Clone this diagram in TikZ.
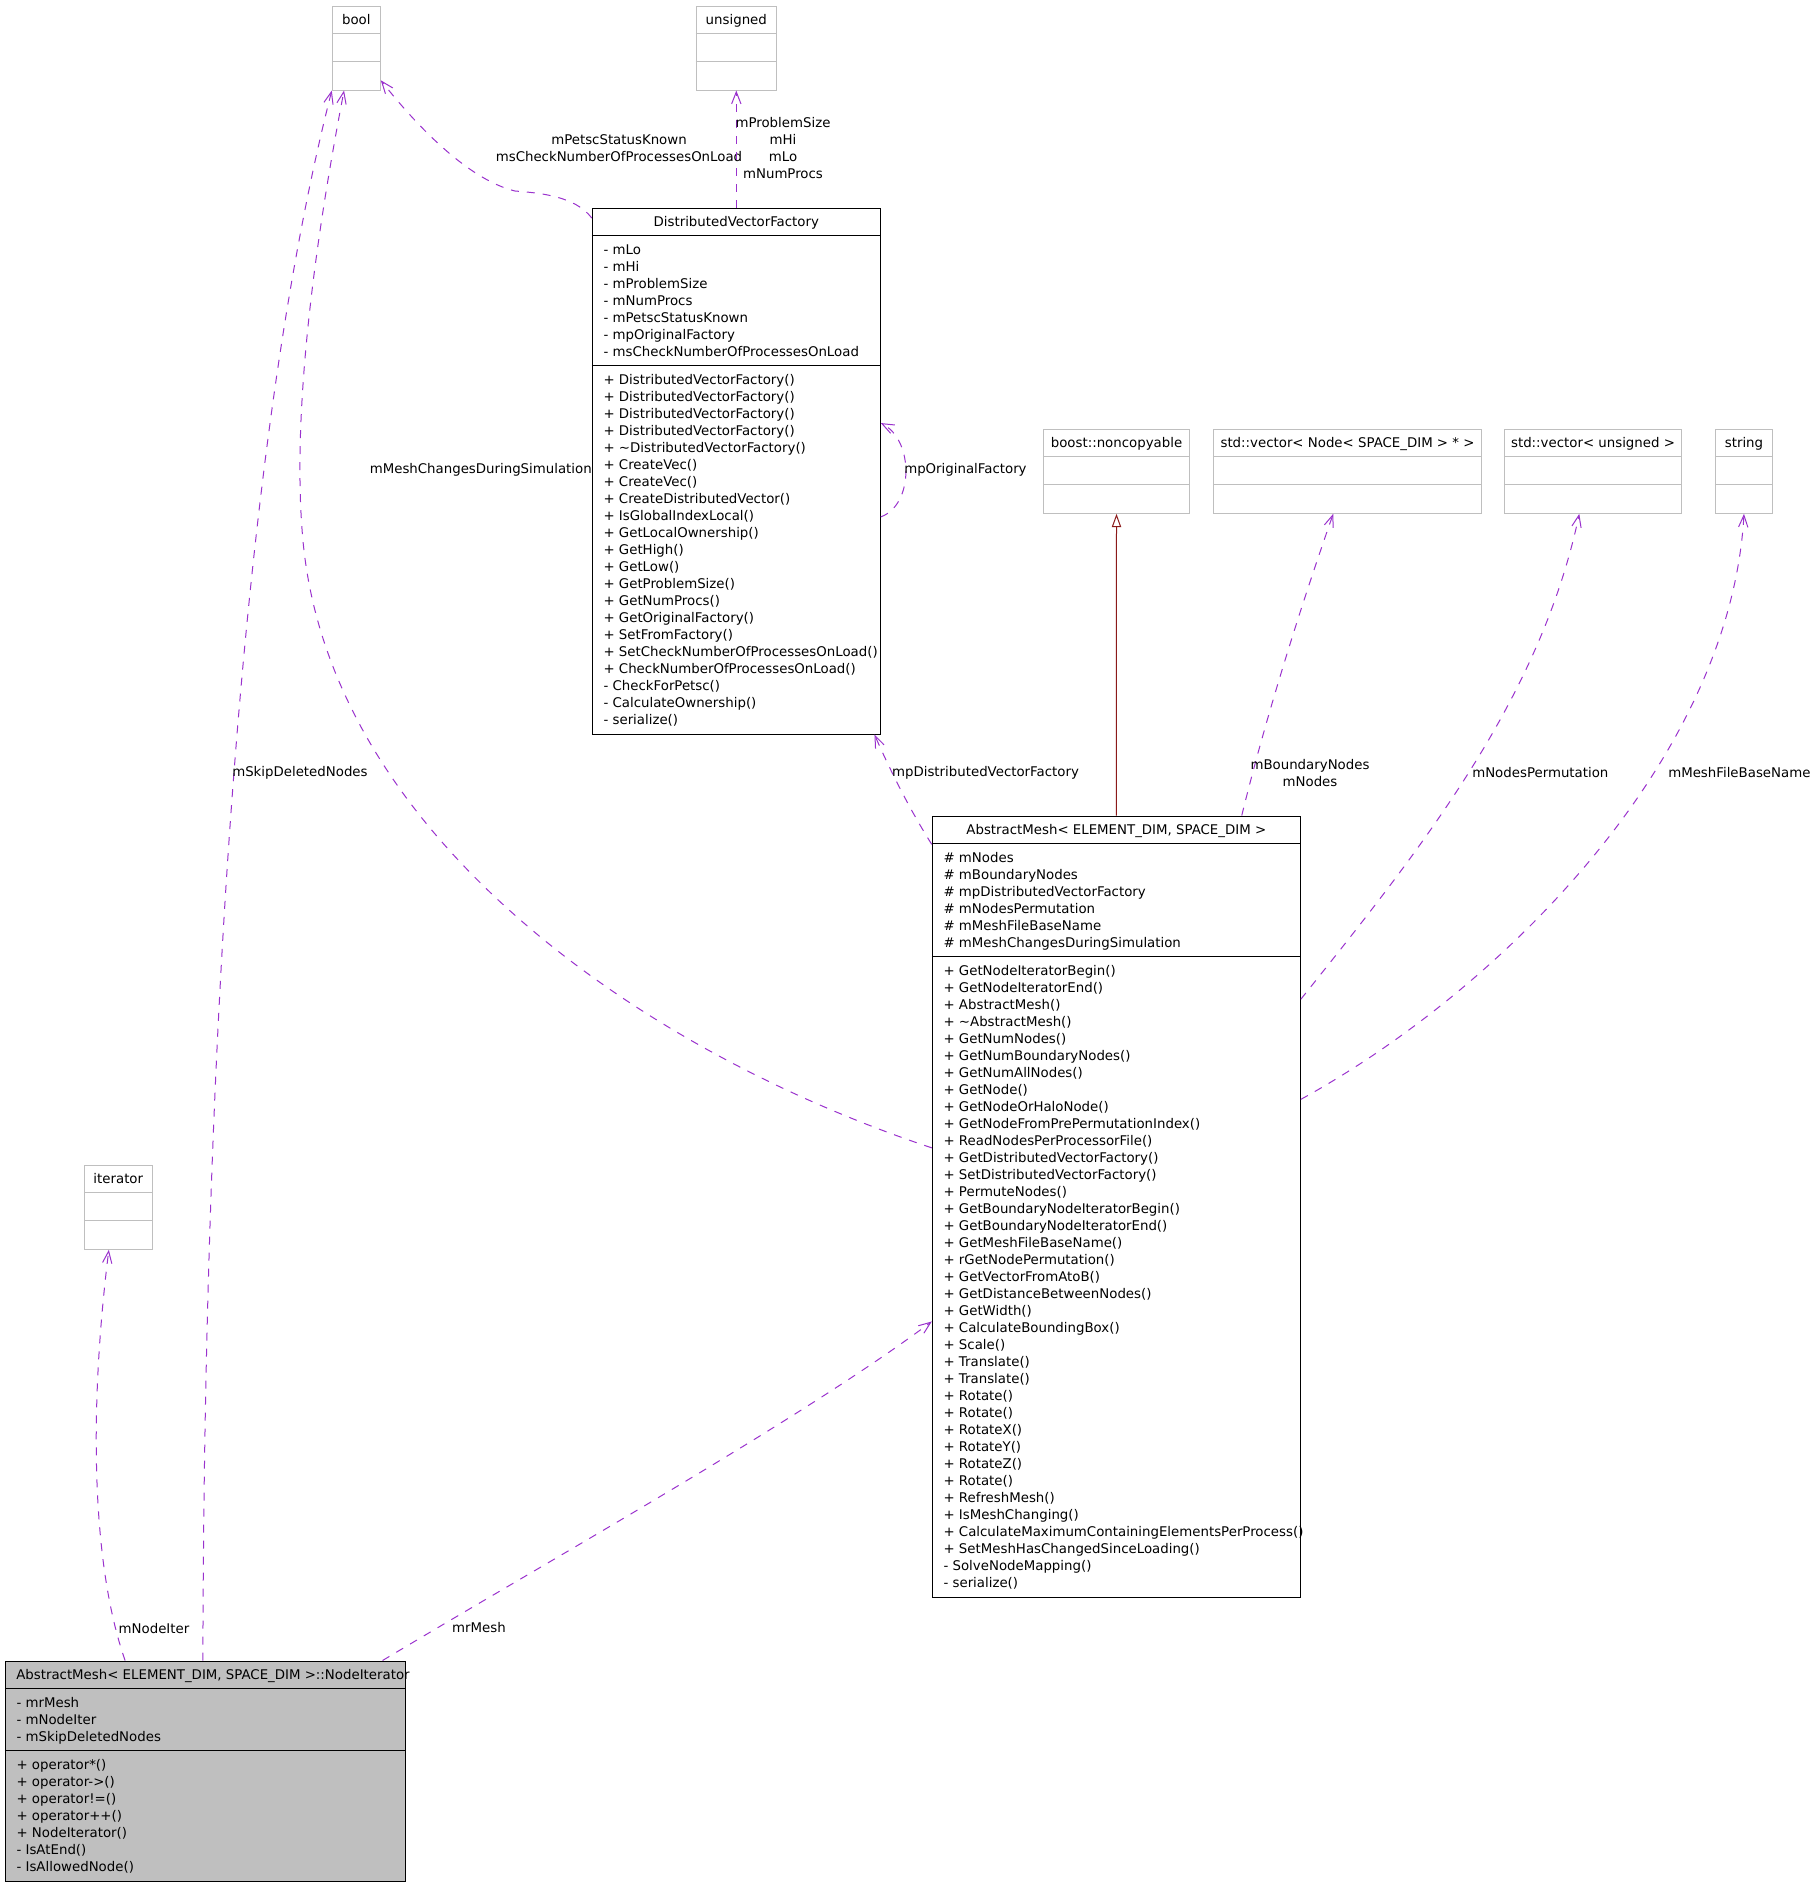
\documentclass[tikz,border=0pt]{standalone}
\usepackage{fontspec}
\setmainfont{DejaVu Sans}
\usetikzlibrary{arrows.meta,calc,fit}
\definecolor{edgepurple}{HTML}{9A32CD}
\definecolor{extgray}{HTML}{BFBFBF}
\definecolor{inhred}{HTML}{8B1A1A}
\tikzset{
  classbox/.style={draw=black, line width=0.75pt, inner sep=0pt},
  extbox/.style={draw=extgray, line width=0.75pt, inner sep=0pt},
  clssep/.style={draw=black, line width=0.75pt},
  extsep/.style={draw=extgray, line width=0.75pt},
  clsname/.style={anchor=base, inner sep=0pt},
  members/.style={anchor=north west, inner sep=0pt, align=left, font=\fontsize{10}{12.75}\selectfont},
  lbl/.style={inner sep=0pt, align=center, font=\fontsize{10}{12.75}\selectfont},
  uses/.style={draw=edgepurple, line width=0.75pt, dash pattern=on 6pt off 6pt,
    -{Straight Barb[length=9pt,width=7pt]}},
  inherits/.style={draw=inhred, line width=0.75pt, -{Triangle[open,length=10pt,width=7pt]}},
}
\begin{document}
\begin{tikzpicture}[x=0.75pt,y=-0.75pt]
\useasboundingbox (0,0) rectangle (1811,1885);

% types that are only used
\node[extbox, fit={(332.3,6) (380.3,90)}] (bool) {};
\draw[extsep] ($(bool.north west)+(0,28)$) -- ($(bool.north east)+(0,28)$);
\draw[extsep] ($(bool.north west)+(0,56)$) -- ($(bool.north east)+(0,56)$);
\node[clsname] (boolname) at (356.3,24) {bool};

\node[extbox, fit={(696,6) (776.6,90)}] (unsigned) {};
\draw[extsep] ($(unsigned.north west)+(0,28)$) -- ($(unsigned.north east)+(0,28)$);
\draw[extsep] ($(unsigned.north west)+(0,56)$) -- ($(unsigned.north east)+(0,56)$);
\node[clsname] (unsignedname) at (736.3,24) {unsigned};

\node[extbox, fit={(1043.3,429.3) (1189.7,513.3)}] (boost) {};
\draw[extsep] ($(boost.north west)+(0,28)$) -- ($(boost.north east)+(0,28)$);
\draw[extsep] ($(boost.north west)+(0,56)$) -- ($(boost.north east)+(0,56)$);
\node[clsname] (boostname) at (1116.5,447.3) {boost::noncopyable};

\node[extbox, fit={(1213.3,429.3) (1481.7,513.3)}] (vecnode) {};
\draw[extsep] ($(vecnode.north west)+(0,28)$) -- ($(vecnode.north east)+(0,28)$);
\draw[extsep] ($(vecnode.north west)+(0,56)$) -- ($(vecnode.north east)+(0,56)$);
\node[clsname] (vecnodename) at (1347.5,447.3) {std::vector< Node< SPACE\_DIM > * >};

\node[extbox, fit={(1504.3,429.3) (1681.7,513.3)}] (vecuns) {};
\draw[extsep] ($(vecuns.north west)+(0,28)$) -- ($(vecuns.north east)+(0,28)$);
\draw[extsep] ($(vecuns.north west)+(0,56)$) -- ($(vecuns.north east)+(0,56)$);
\node[clsname] (vecunsname) at (1593,447.3) {std::vector< unsigned >};

\node[extbox, fit={(1715.3,429.3) (1772.7,513.3)}] (string) {};
\draw[extsep] ($(string.north west)+(0,28)$) -- ($(string.north east)+(0,28)$);
\draw[extsep] ($(string.north west)+(0,56)$) -- ($(string.north east)+(0,56)$);
\node[clsname] (stringname) at (1744,447.3) {string};

\node[extbox, fit={(84.3,1165.3) (152.3,1249.3)}] (iterator) {};
\draw[extsep] ($(iterator.north west)+(0,28)$) -- ($(iterator.north east)+(0,28)$);
\draw[extsep] ($(iterator.north west)+(0,56)$) -- ($(iterator.north east)+(0,56)$);
\node[clsname] (iteratorname) at (118.3,1183.3) {iterator};

% DistributedVectorFactory
\node[classbox, fit={(592.3,208) (880.3,734)}] (dvf) {};
\draw[clssep] ($(dvf.north west)+(0,28)$) -- ($(dvf.north east)+(0,28)$);
\draw[clssep] ($(dvf.north west)+(0,158)$) -- ($(dvf.north east)+(0,158)$);
\node[clsname] (dvfname) at (736.3,226) {DistributedVectorFactory};
\node[members] (dvfattr) at (603.3,243.3) {\rule{0pt}{8pt}- mLo\\- mHi\\- mProblemSize\\- mNumProcs\\- mPetscStatusKnown\\- mpOriginalFactory\\- msCheckNumberOfProcessesOnLoad};
\node[members] (dvfmeth) at (603.3,373.3) {\rule{0pt}{8pt}+ DistributedVectorFactory()\\+ DistributedVectorFactory()\\+ DistributedVectorFactory()\\+ DistributedVectorFactory()\\+ \textasciitilde DistributedVectorFactory()\\+ CreateVec()\\+ CreateVec()\\+ CreateDistributedVector()\\+ IsGlobalIndexLocal()\\+ GetLocalOwnership()\\+ GetHigh()\\+ GetLow()\\+ GetProblemSize()\\+ GetNumProcs()\\+ GetOriginalFactory()\\+ SetFromFactory()\\+ SetCheckNumberOfProcessesOnLoad()\\+ CheckNumberOfProcessesOnLoad()\\- CheckForPetsc()\\- CalculateOwnership()\\- serialize()};

% AbstractMesh
\node[classbox, fit={(932.3,816) (1300.3,1597)}] (am) {};
\draw[clssep] ($(am.north west)+(0,28)$) -- ($(am.north east)+(0,28)$);
\draw[clssep] ($(am.north west)+(0,141)$) -- ($(am.north east)+(0,141)$);
\node[clsname] (amname) at (1116.3,834) {AbstractMesh< ELEMENT\_DIM, SPACE\_DIM >};
\node[members] (amattr) at (943.3,851.3) {\rule{0pt}{8pt}\# mNodes\\\# mBoundaryNodes\\\# mpDistributedVectorFactory\\\# mNodesPermutation\\\# mMeshFileBaseName\\\# mMeshChangesDuringSimulation};
\node[members] (ammeth) at (943.3,964.3) {\rule{0pt}{8pt}+ GetNodeIteratorBegin()\\+ GetNodeIteratorEnd()\\+ AbstractMesh()\\+ \textasciitilde AbstractMesh()\\+ GetNumNodes()\\+ GetNumBoundaryNodes()\\+ GetNumAllNodes()\\+ GetNode()\\+ GetNodeOrHaloNode()\\+ GetNodeFromPrePermutationIndex()\\+ ReadNodesPerProcessorFile()\\+ GetDistributedVectorFactory()\\+ SetDistributedVectorFactory()\\+ PermuteNodes()\\+ GetBoundaryNodeIteratorBegin()\\+ GetBoundaryNodeIteratorEnd()\\+ GetMeshFileBaseName()\\+ rGetNodePermutation()\\+ GetVectorFromAtoB()\\+ GetDistanceBetweenNodes()\\+ GetWidth()\\+ CalculateBoundingBox()\\+ Scale()\\+ Translate()\\+ Translate()\\+ Rotate()\\+ Rotate()\\+ RotateX()\\+ RotateY()\\+ RotateZ()\\+ Rotate()\\+ RefreshMesh()\\+ IsMeshChanging()\\+ CalculateMaximumContainingElementsPerProcess()\\+ SetMeshHasChangedSinceLoading()\\- SolveNodeMapping()\\- serialize()};

% NodeIterator
\node[classbox, fill=extgray, fit={(5.3,1661) (405.3,1881)}] (ni) {};
\draw[clssep] ($(ni.north west)+(0,28)$) -- ($(ni.north east)+(0,28)$);
\draw[clssep] ($(ni.north west)+(0,90)$) -- ($(ni.north east)+(0,90)$);
\node[clsname, anchor=base west] (niname) at (16,1679) {AbstractMesh< ELEMENT\_DIM, SPACE\_DIM >::NodeIterator};
\node[members] (niattr) at (16.3,1696.3) {\rule{0pt}{8pt}- mrMesh\\- mNodeIter\\- mSkipDeletedNodes};
\node[members] (nimeth) at (16.3,1758.3) {\rule{0pt}{8pt}+ operator*()\\+ operator->()\\+ operator!=()\\+ operator++()\\+ NodeIterator()\\- IsAtEnd()\\- IsAllowedNode()};

% relations
\draw[uses] ($(dvf.north west)!0.02!(dvf.south west)$) .. controls (575,196) and (540,193) .. (515,191)
  .. controls (470,180) and (420,130) .. ($(bool.north east)!0.88!(bool.south east)$);
\node[lbl] (lpetsc) at (619,148) {mPetscStatusKnown\\msCheckNumberOfProcessesOnLoad};

\draw[uses] (dvf.north) -- (unsigned.south);
\node[lbl] (lsize) at (783,148) {mProblemSize\\mHi\\mLo\\mNumProcs};

\draw[uses] ($(am.north west)!0.425!(am.south west)$) .. controls (632,1048) and (330,830) .. (303,541)
  .. controls (290,401) and (321,210) .. ($(bool.south west)!0.25!(bool.south east)$);
\node[lbl, anchor=east] (lchange) at (592,469.5) {mMeshChangesDuringSimulation};

\draw[uses] ($(ni.north west)!0.494!(ni.north east)$) .. controls (204,1050) and (240,450) .. (bool.south west);
\node[lbl, anchor=west] (lskip) at (232,773) {mSkipDeletedNodes};

\draw[uses] ($(ni.north west)!0.30!(ni.north east)$) .. controls (90,1560) and (90,1400) .. ($(iterator.south west)!0.363!(iterator.south east)$);
\node[lbl] (liter) at (154,1629) {mNodeIter};

\draw[uses] ($(ni.north west)!0.942!(ni.north east)$) .. controls (550,1560) and (800,1420) .. ($(am.north west)!0.647!(am.south west)$);
\node[lbl] (lmesh) at (479,1628) {mrMesh};

\draw[uses] ($(am.north west)!0.037!(am.south west)$) .. controls (910,810) and (890,770) .. ($(dvf.south west)!0.978!(dvf.south east)$);
\node[lbl] (lfactory) at (985.5,773) {mpDistributedVectorFactory};

\draw[uses] ($(dvf.north east)!0.587!(dvf.south east)$) .. controls (914,505) and (914,440) .. ($(dvf.north east)!0.409!(dvf.south east)$);
\node[lbl, anchor=west] (lorig) at (904,469.5) {mpOriginalFactory};

\draw[inherits] (am.north) -- (boost.south);

\draw[uses] ($(am.north west)!0.84!(am.north east)$) .. controls (1270,700) and (1310,580) .. ($(vecnode.south west)!0.447!(vecnode.south east)$);
\node[lbl] (lnodes) at (1310,773) {mBoundaryNodes\\mNodes};

\draw[uses] ($(am.north east)!0.235!(am.south east)$) .. controls (1420,850) and (1540,700) .. ($(vecuns.south west)!0.423!(vecuns.south east)$);
\node[lbl, anchor=west] (lperm) at (1472,773) {mNodesPermutation};

\draw[uses] ($(am.north east)!0.363!(am.south east)$) .. controls (1500,990) and (1730,760) .. (string.south);
\node[lbl, anchor=west] (lbase) at (1668,773) {mMeshFileBaseName};
\end{tikzpicture}
\end{document}
